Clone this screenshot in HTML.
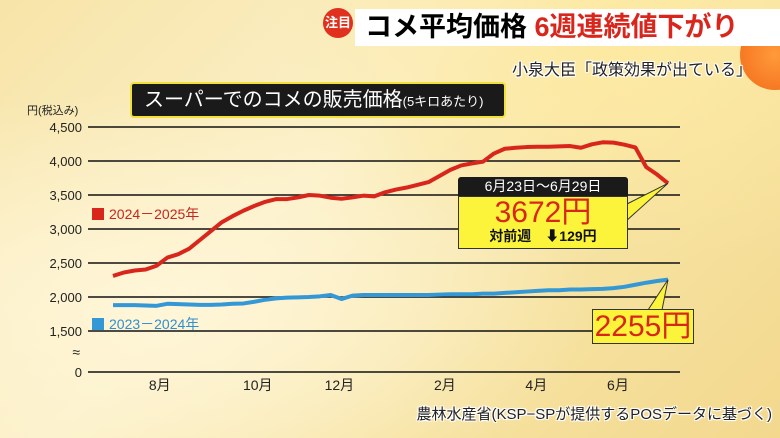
<!DOCTYPE html>
<html><head><meta charset="utf-8">
<style>
body{margin:0;width:780px;height:438px;overflow:hidden;font-family:"Liberation Sans","Noto Sans CJK JP",sans-serif;}
#root{position:relative;width:780px;height:438px;background:radial-gradient(ellipse at 80% 10%,#fde9a0 0%,rgba(253,233,160,0) 40%),radial-gradient(ellipse at 20% 70%,#fff6d8 0%,rgba(255,246,216,0) 50%),linear-gradient(135deg,#f7e4a8 0%,#fbf0c8 40%,#f6e2a0 70%,#f3d88e 100%);}
.abs{position:absolute;white-space:nowrap;}
.outl{color:#222;text-shadow:-1px -1px 0 #fff,1px -1px 0 #fff,-1px 1px 0 #fff,1px 1px 0 #fff,0 0 3px #fff;}
</style></head><body>
<div id="root">
<div class="abs" style="left:740px;top:20px;width:70px;height:70px;border-radius:50%;background:radial-gradient(circle,#ff9a3a,#f36a1a);"></div>
<div class="abs" style="left:355px;top:9px;width:425px;height:37px;background:#fff;"></div>
<div class="abs" style="left:323px;top:8px;width:30px;height:30px;border-radius:50%;background:#e0301e;color:#fff;font-size:13px;font-weight:bold;line-height:30px;text-align:center;">注目</div>
<div class="abs" style="left:365px;top:9px;font-size:27px;font-weight:bold;line-height:37px;">コメ平均価格 <span style="color:#d9261c">6週連続値下がり</span></div>
<div class="abs outl" style="right:28px;top:56px;font-size:16px;">小泉大臣「政策効果が出ている」</div>
<div class="abs" style="left:130px;top:82px;width:360px;height:32px;background:#1a1a1a;border:2px solid #f2e03a;border-radius:4px;color:#fff;font-size:20px;line-height:32px;padding-left:12px;box-sizing:content-box;">スーパーでのコメの販売価格<span style="font-size:13px">(5キロあたり)</span></div>
<div class="abs" style="left:27px;top:102px;font-size:11px;color:#222;">円(税込み)</div>
<svg id="chart" class="abs" style="left:0;top:0" width="780" height="438"></svg>
<div class="abs" style="left:92px;top:204px;font-size:14px;color:#c8261c;"><span style="display:inline-block;width:12px;height:12px;background:#d9261c;margin-right:5px;vertical-align:-1px"></span>2024－2025年</div>
<div class="abs" style="left:92px;top:314px;font-size:14px;color:#2f8fd0;"><span style="display:inline-block;width:12px;height:12px;background:#3598d6;margin-right:5px;vertical-align:-1px"></span>2023－2024年</div>
<div class="abs" style="left:458px;top:177px;width:170px;height:19px;background:#1a1a1a;color:#fff;font-size:14px;line-height:19px;text-align:center;border-radius:3px 3px 0 0;">6月23日～6月29日</div>
<div class="abs" style="left:458px;top:196px;width:168px;height:51px;background:#fbf43a;border:1px solid #333;text-align:center;">
<div style="font-size:30px;color:#d9261c;line-height:31px;">3672円</div>
<div style="font-size:14px;color:#111;line-height:17px;font-weight:bold;">対前週　⬇129円</div></div>
<div class="abs" style="left:592px;top:309px;width:100px;height:33px;background:#fbf43a;border:1px solid #333;text-align:center;font-size:30px;color:#d9261c;line-height:33px;">2255円</div>
<div class="abs outl" style="right:8px;top:403px;font-size:15px;">農林水産省(KSP−SPが提供するPOSデータに基づく)</div>
</div>
<script>
const yTicks=[4500,4000,3500,3000,2500,2000,1500];
const yTickLabels=["4,500","4,000","3,500","3,000","2,500","2,000","1,500"];
const monthLabels=["8月","10月","12月","2月","4月","6月"];
const monthWeekIdx=[4.3,13.3,20.8,30.5,38.9,46.4];
const red2024=[2310,2360,2390,2405,2460,2580,2630,2710,2840,2970,3100,3190,3270,3340,3400,3440,3440,3465,3500,3490,3460,3445,3465,3490,3480,3540,3580,3610,3650,3690,3780,3870,3935,3965,3990,4110,4180,4195,4205,4210,4210,4215,4220,4195,4245,4275,4270,4240,4200,3910,3801,3672];
const blue2023=[1880,1880,1880,1875,1870,1900,1895,1890,1885,1885,1890,1900,1905,1930,1960,1980,1990,1995,2000,2010,2030,1970,2020,2030,2030,2030,2030,2030,2030,2030,2035,2040,2040,2040,2050,2050,2060,2070,2080,2090,2100,2100,2110,2110,2115,2120,2130,2150,2180,2210,2235,2255];
const NS="http://www.w3.org/2000/svg";
const svg=document.getElementById('chart');
const x=i=>113+i*(668-113)/51;
const y=v=>v>=1500?331-(v-1500)*34/500:372-v*41/1500;
function mk(t,a){const e=document.createElementNS(NS,t);for(const k in a)e.setAttribute(k,a[k]);svg.appendChild(e);return e;}
yTicks.forEach((v,i)=>{
 const l=mk('line',{x1:88,x2:680,y1:y(v),y2:y(v),stroke:'#111','stroke-width':1.5});
 
 
 const t=mk('text',{x:82,y:y(v)+5,'text-anchor':'end','font-size':13,fill:'#222'});
 t.textContent=yTickLabels[i];
 
 
});
const z=mk('line',{x1:88,x2:680,y1:y(0),y2:y(0),stroke:'#111','stroke-width':1.5});


const zt=mk('text',{x:82,y:y(0)+5,'text-anchor':'end','font-size':13,fill:'#222'});zt.textContent='0';


const br=mk('text',{x:80,y:357,'text-anchor':'end','font-size':14,fill:'#222'});br.textContent='≈';


monthLabels.forEach((m,i)=>{
 const t=mk('text',{x:x(monthWeekIdx[i]),y:390,'text-anchor':'middle','font-size':14,fill:'#222'});
 t.textContent=m;
 
 
});
const bl=mk('polyline',{points:blue2023.map((v,i)=>x(i)+','+y(v)).join(' '),fill:'none',stroke:'#3598d6','stroke-width':4,'stroke-linejoin':'round'});


const rl=mk('polyline',{points:red2024.map((v,i)=>x(i)+','+y(v)).join(' '),fill:'none',stroke:'#d9261c','stroke-width':4,'stroke-linejoin':'round'});


const lr=red2024.length-1, lb=blue2023.length-1;
const p1=mk('polygon',{points:`625,205 ${x(lr)},${y(red2024[lr])} 625,222`,fill:'#fbf43a',stroke:'#333','stroke-width':1});


const p2=mk('polygon',{points:`648,310 ${x(lb)},${y(blue2023[lb])} 662,310`,fill:'#fbf43a',stroke:'#333','stroke-width':1});


</script>
</body></html>
